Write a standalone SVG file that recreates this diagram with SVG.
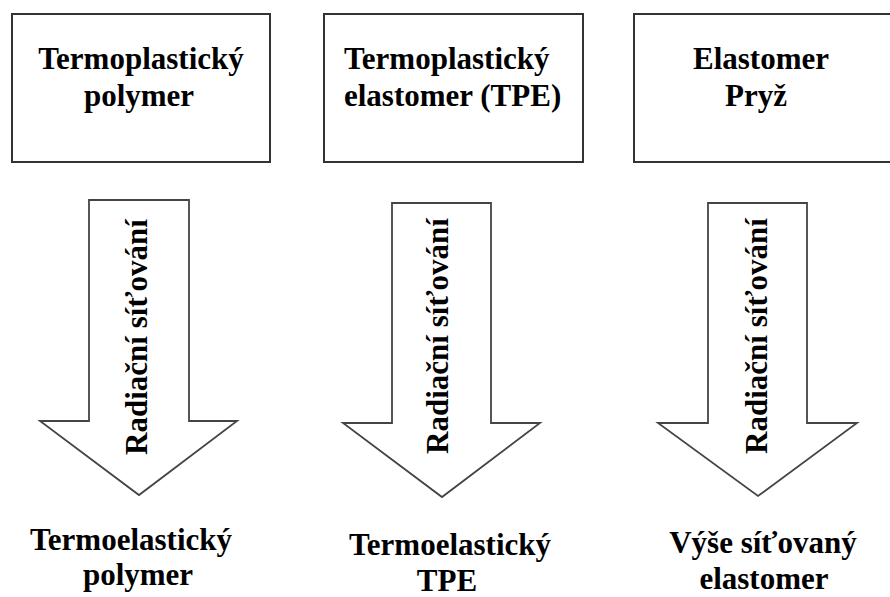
<svg xmlns="http://www.w3.org/2000/svg" width="890" height="597" viewBox="0 0 890 597">
<style>
.box{fill:#fff;stroke:#333;stroke-width:2}
.arrow{fill:#fff;stroke:#444;stroke-width:1.8;stroke-linejoin:miter}
text{font-family:'Liberation Serif','DejaVu Serif',serif;font-weight:700;font-size:31px;fill:#000}
.m{text-anchor:middle}
</style>
<rect width="890" height="597" fill="#fff"/>
<g id="node-tp">
<rect class="box" x="12" y="14" width="258" height="148"/>
<text class="m" x="141" y="69" font-family="Liberation Serif">Termoplastický</text>
<text class="m" x="139" y="106" font-family="Liberation Serif">polymer</text>
</g>
<g id="node-tpe">
<rect class="box" x="324" y="14" width="259" height="148"/>
<text x="344" y="69" font-family="Liberation Serif">Termoplastický</text>
<text x="344" y="106" font-family="Liberation Serif">elastomer (TPE)</text>
</g>
<g id="node-el">
<rect class="box" x="634" y="14" width="258" height="148"/>
<text x="693" y="69" font-family="Liberation Serif">Elastomer</text>
<text x="725" y="106" font-family="Liberation Serif">Pryž</text>
</g>
<g id="connectors">
<g id="arrow1">
<polygon class="arrow" points="89,200 189,200 189,421 237,421 139,495 40,421 89,421"/>
<text class="m" transform="translate(147,337) rotate(-90)" font-family="Liberation Serif">Radiační síťování</text>
</g>
<g id="arrow2">
<polygon class="arrow" points="392,203 491,203 491,423 540,423 442,497 343,423 392,423"/>
<text class="m" transform="translate(448,336) rotate(-90)" font-family="Liberation Serif">Radiační síťování</text>
</g>
<g id="arrow3">
<polygon class="arrow" points="708,203 807,203 807,423 857,423 758,496 658,423 708,423"/>
<text class="m" transform="translate(767,336) rotate(-90)" font-family="Liberation Serif">Radiační síťování</text>
</g>
</g>
<g id="node-res1">
<text class="m" x="131" y="550" font-family="Liberation Serif">Termoelastický</text>
<text class="m" x="138" y="585" font-family="Liberation Serif">polymer</text>
</g>
<g id="node-res2">
<text class="m" x="450" y="555" font-family="Liberation Serif">Termoelastický</text>
<text class="m" x="447" y="591" font-family="Liberation Serif">TPE</text>
</g>
<g id="node-res3">
<text class="m" x="763" y="553" font-family="Liberation Serif">Výše síťovaný</text>
<text class="m" x="764" y="589" font-family="Liberation Serif">elastomer</text>
</g>
</svg>
